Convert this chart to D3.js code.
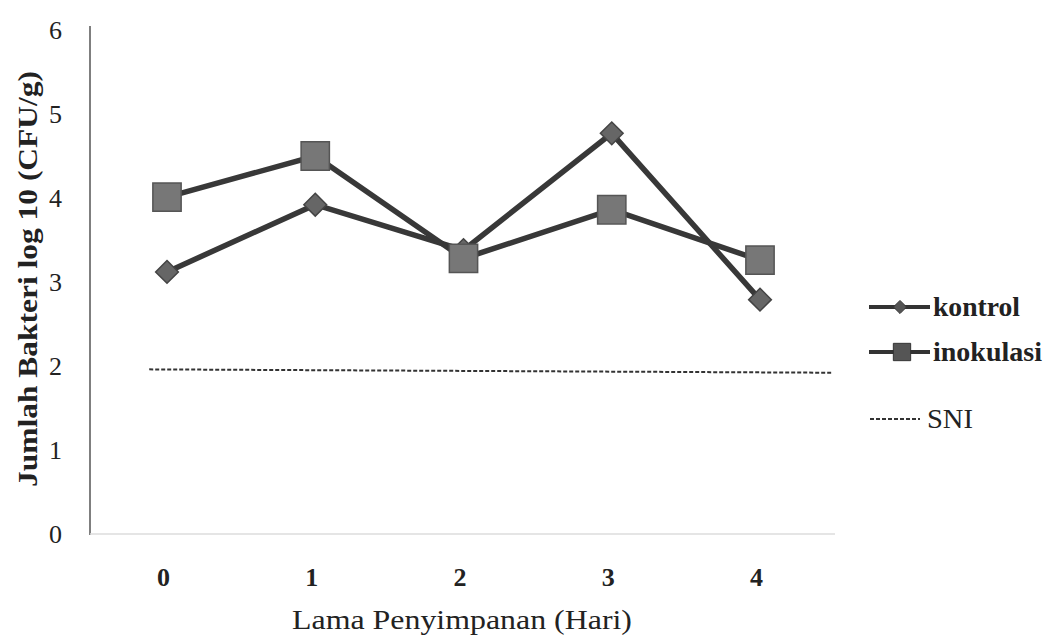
<!DOCTYPE html>
<html><head><meta charset="utf-8">
<script src="https://cdn.jsdelivr.net/npm/d3@7"></script>
<style>body{margin:0;background:#fff}svg{display:block}</style>
</head><body>
<svg id="c" width="1047" height="636"></svg>
<script>
const days = [0, 1, 2, 3, 4];
const kontrol = [3.12, 3.92, 3.38, 4.77, 2.79];
const inokulasi = [4.01, 4.50, 3.28, 3.86, 3.26];
const sniDays = [-0.12, 4.48];
const sniValues = [1.96, 1.92];
const yTicks = [0, 1, 2, 3, 4, 5, 6];

const svg = d3.select("#c");
const serif = "'Liberation Serif','DejaVu Serif',serif";

const y = d3.scaleLinear().domain([0, 6]).range([534, 30]);
const x = d3.scaleLinear().domain([0, 4]).range([167, 760]);

// axes
svg.append("line").attr("x1", 90).attr("x2", 90).attr("y1", 26).attr("y2", 535)
  .attr("stroke", "#555").attr("stroke-width", 1.5);
svg.append("line").attr("x1", 90).attr("x2", 835).attr("y1", 534).attr("y2", 534)
  .attr("stroke", "#ddd").attr("stroke-width", 1.5);

const yAxis = svg.append("g").attr("transform", "translate(90,0)")
  .call(d3.axisLeft(y).tickValues(yTicks).tickSize(0).tickPadding(28).tickFormat(d3.format("d")));
yAxis.select(".domain").remove();
yAxis.selectAll("text").style("font-family", serif).style("font-size", "26px").attr("fill", "#222");

const xAxis = svg.append("g").attr("transform", "translate(-4,568)")
  .call(d3.axisBottom(x).tickValues(days).tickSize(0).tickPadding(0).tickFormat(d3.format("d")));
xAxis.select(".domain").remove();
xAxis.selectAll("text").style("font-family", serif).style("font-size", "26px").style("font-weight", "bold").attr("fill", "#222");

// titles
svg.append("text").attr("transform", "translate(37,279) rotate(-90)")
  .attr("text-anchor", "middle").style("font-family", serif).style("font-size", "27px")
  .style("font-weight", "bold").attr("fill", "#222")
  .attr("textLength", 416).attr("lengthAdjust", "spacingAndGlyphs")
  .text("Jumlah Bakteri log 10 (CFU/g)");
svg.append("text").attr("x", 462).attr("y", 629).attr("text-anchor", "middle")
  .style("font-family", serif).style("font-size", "28px").attr("fill", "#222")
  .attr("textLength", 340).attr("lengthAdjust", "spacingAndGlyphs")
  .text("Lama Penyimpanan (Hari)");

// SNI
const sniLine = d3.line().x(d => x(d[0])).y(d => y(d[1]));
svg.append("path").datum(d3.zip(sniDays, sniValues)).attr("d", sniLine)
  .attr("fill", "none").attr("stroke", "#333").attr("stroke-width", 2).attr("stroke-dasharray", "4,2");

const line = d3.line().x((d, i) => x(days[i])).y(d => y(d));
svg.append("path").datum(kontrol).attr("d", line).attr("fill", "none")
  .attr("stroke", "#383838").attr("stroke-width", 5.5);
svg.append("path").datum(inokulasi).attr("d", line).attr("fill", "none")
  .attr("stroke", "#383838").attr("stroke-width", 5.5);

const diamond = d3.symbol().type(d3.symbolDiamond2).size(330);
const square = d3.symbol().type(d3.symbolSquare).size(800);
svg.selectAll(".k").data(kontrol).enter().append("path")
  .attr("d", diamond).attr("transform", (d, i) => `translate(${x(days[i])},${y(d)})`)
  .attr("fill", "#666").attr("stroke", "#444").attr("stroke-width", 1.5);
svg.selectAll(".s").data(inokulasi).enter().append("path")
  .attr("d", square).attr("transform", (d, i) => `translate(${x(days[i])},${y(d)})`)
  .attr("fill", "#777").attr("stroke", "#555").attr("stroke-width", 1.5);

// legend
const lg = svg.append("g");
const items = [
  {name: "kontrol", yy: 307, len: 87},
  {name: "inokulasi", yy: 352, len: 109},
  {name: "SNI", yy: 419, len: 46, dash: "4,2"}
];
items.forEach(it => {
  if (it.dash) {
    lg.append("line").attr("x1", 870).attr("x2", 920).attr("y1", it.yy).attr("y2", it.yy)
      .attr("stroke", "#333").attr("stroke-width", 2).attr("stroke-dasharray", it.dash);
    lg.append("text").attr("x", 927).attr("y", it.yy + 9).style("font-family", serif)
      .style("font-size", "27px").attr("fill", "#222")
      .attr("textLength", it.len).attr("lengthAdjust", "spacingAndGlyphs").text(it.name);
  } else {
    lg.append("line").attr("x1", 869).attr("x2", 930).attr("y1", it.yy).attr("y2", it.yy)
      .attr("stroke", "#333").attr("stroke-width", 4);
    lg.append("path").attr("d", it.name === "kontrol" ? d3.symbol().type(d3.symbolDiamond2).size(110)() : d3.symbol().type(d3.symbolSquare).size(300)())
      .attr("transform", `translate(${it.name === "kontrol" ? 900 : 902},${it.yy})`).attr("fill", "#555").attr("stroke", "#333");
    lg.append("text").attr("x", 933).attr("y", it.yy + 9).style("font-family", serif)
      .style("font-size", "27px").style("font-weight", "bold").attr("fill", "#222")
      .attr("textLength", it.len).attr("lengthAdjust", "spacingAndGlyphs").text(it.name);
  }
});
</script>
</body></html>
